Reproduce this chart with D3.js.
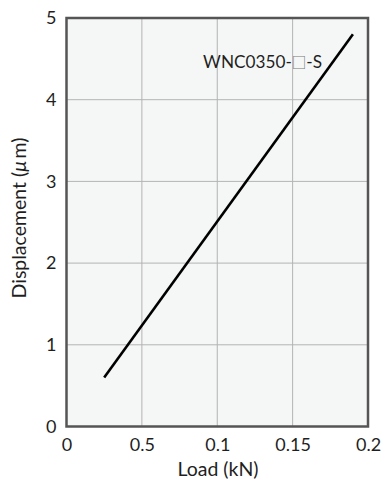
<!DOCTYPE html>
<html>
<head>
<meta charset="utf-8">
<script src="https://cdn.jsdelivr.net/npm/d3@7"></script>
<style>
  html, body { margin: 0; padding: 0; background: #ffffff; }
  svg { display: block; }
  text { font-family: "Lato", "Open Sans", sans-serif; fill: #1f1f1f; }
</style>
</head>
<body>
<svg id="chart" width="382" height="483"></svg>
<script>
// Load vs. displacement (straight-line characteristic)
const loadValues = [0.025, 0.19];          // kN
const displacementValues = [0.6, 4.8];     // µm
const xTickValues = [0, 0.05, 0.1, 0.15, 0.2];
const xTickLabels = ["0", "0.5", "0.1", "0.15", "0.2"];
const yTickValues = [0, 1, 2, 3, 4, 5];
const yTickLabels = ["0", "1", "2", "3", "4", "5"];
const seriesPrefix = "WNC0350-";
const seriesBox = "\u25A1";
const seriesSuffix = "-S";

const svg = d3.select("#chart");
const margin = { left: 66.5, top: 18, right: 14, bottom: 56.5 };
const W = 382, H = 483;
const x = d3.scaleLinear().domain([0, 0.2]).range([margin.left, W - margin.right]);
const y = d3.scaleLinear().domain([0, 5]).range([H - margin.bottom, margin.top]);

// plot background
svg.append("rect")
  .attr("x", x(0)).attr("y", y(5))
  .attr("width", x(0.2) - x(0)).attr("height", y(0) - y(5))
  .attr("fill", "#f5f7f6");

// grid
svg.append("g").selectAll("line").data(xTickValues.slice(1, -1)).join("line")
  .attr("x1", d => x(d)).attr("x2", d => x(d))
  .attr("y1", y(0)).attr("y2", y(5))
  .attr("stroke", "#b3b3b3").attr("stroke-width", 1);
svg.append("g").selectAll("line").data(yTickValues.slice(1, -1)).join("line")
  .attr("x1", x(0)).attr("x2", x(0.2))
  .attr("y1", d => y(d)).attr("y2", d => y(d))
  .attr("stroke", "#b3b3b3").attr("stroke-width", 1);

// data line
const line = d3.line().x(d => x(d[0])).y(d => y(d[1]));
svg.append("path")
  .datum(loadValues.map((v, i) => [v, displacementValues[i]]))
  .attr("d", line)
  .attr("fill", "none").attr("stroke", "#000").attr("stroke-width", 2.6);

// frame
svg.append("rect")
  .attr("x", x(0)).attr("y", y(5))
  .attr("width", x(0.2) - x(0)).attr("height", y(0) - y(5))
  .attr("fill", "none").attr("stroke", "#555").attr("stroke-width", 2.5);

// axes
const xAxis = d3.axisBottom(x).tickValues(xTickValues)
  .tickFormat((d, i) => xTickLabels[i]).tickSize(0).tickPadding(12);
const gx = svg.append("g").attr("transform", `translate(0,${y(0)})`).call(xAxis);
gx.select(".domain").remove();
gx.selectAll("text").attr("font-size", 18).attr("font-family", "Lato").attr("fill", "#1f1f1f");

const yAxis = d3.axisLeft(y).tickValues(yTickValues)
  .tickFormat((d, i) => yTickLabels[i]).tickSize(0).tickPadding(10);
const gy = svg.append("g").attr("transform", `translate(${x(0)},0)`).call(yAxis);
gy.select(".domain").remove();
gy.selectAll("text").attr("font-size", 18).attr("font-family", "Lato").attr("fill", "#1f1f1f");

// series label
const lbl = svg.append("text")
  .attr("x", 322).attr("y", 68)
  .attr("text-anchor", "end").attr("font-size", 17.2);
lbl.append("tspan").text(seriesPrefix);
lbl.append("tspan").attr("font-family", "Noto Sans CJK JP").attr("font-size", 14.5)
  .attr("fill", "#777").text(seriesBox);
lbl.append("tspan").text(seriesSuffix);

// axis titles
svg.append("text")
  .attr("x", 218).attr("y", 476)
  .attr("text-anchor", "middle").attr("font-size", 19.5)
  .text("Load (kN)");

const yt = svg.append("text")
  .attr("transform", "translate(26,218) rotate(-90)")
  .attr("text-anchor", "middle").attr("font-size", 19.5);
yt.append("tspan").text("Displacement (");
yt.append("tspan").attr("font-style", "italic").text("\u03BC");
yt.append("tspan").text("\u2009m)");
</script>
</body>
</html>
